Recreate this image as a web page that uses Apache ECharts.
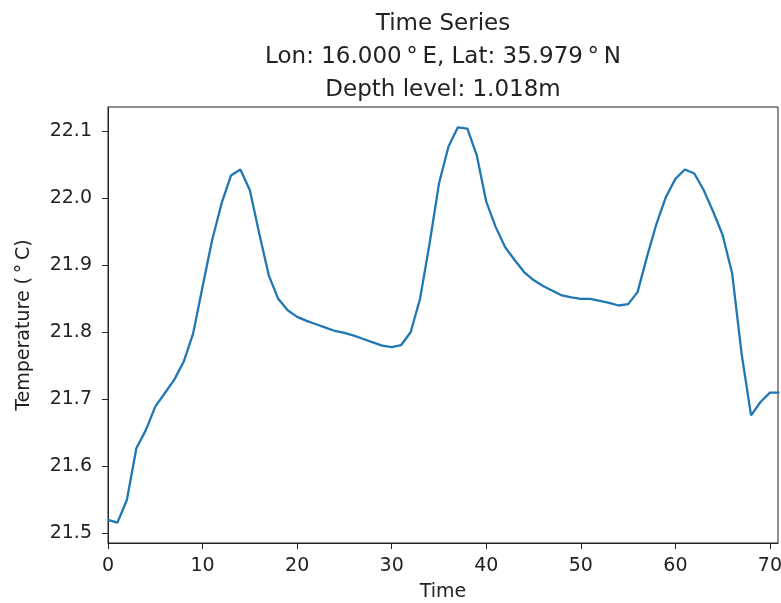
<!DOCTYPE html>
<html>
<head>
<meta charset="utf-8">
<script src="https://cdn.jsdelivr.net/npm/echarts@6/dist/echarts.min.js"></script>
<style>
html,body{margin:0;padding:0;background:#fff;}
#main{width:781px;height:603px;}
</style>
</head>
<body>
<div id="main"></div>
<script>
const titleLines = ['Time Series', 'Lon: 16.000\u2009°\u2009E, Lat: 35.979\u2009°\u2009N', 'Depth level: 1.018m'];
const xName = 'Time';
const yName = 'Temperature (\u2009°\u2009C)';
const timeSteps = [0,1,2,3,4,5,6,7,8,9,10,11,12,13,14,15,16,17,18,19,20,21,22,23,24,25,26,27,28,29,30,31,32,33,34,35,36,37,38,39,40,41,42,43,44,45,46,47,48,49,50,51,52,53,54,55,56,57,58,59,60,61,62,63,64,65,66,67,68,69,70,71];
const temperature = [21.520,21.516,21.550,21.627,21.654,21.689,21.709,21.729,21.756,21.798,21.868,21.937,21.992,22.034,22.043,22.012,21.947,21.885,21.850,21.833,21.823,21.817,21.812,21.807,21.802,21.799,21.795,21.790,21.785,21.780,21.778,21.781,21.800,21.850,21.932,22.022,22.077,22.106,22.104,22.064,21.995,21.957,21.927,21.908,21.890,21.878,21.869,21.862,21.855,21.852,21.850,21.850,21.847,21.844,21.840,21.842,21.860,21.913,21.962,22.002,22.029,22.043,22.037,22.012,21.980,21.945,21.888,21.768,21.676,21.696,21.710,21.710];
const xTicks = [0,10,20,30,40,50,60,70];
const yTicks = [21.5,21.6,21.7,21.8,21.9,22.0,22.1];

const chart = echarts.init(document.getElementById('main'), null, {renderer:'canvas'});
const fontFam = 'DejaVu Sans';
chart.setOption({
  animation: false,
  backgroundColor: '#fff',
  title: {
    text: titleLines.join('\n'),
    left: 443,
    textAlign: 'center',
    top: 8,
    padding: 0,
    textStyle: {fontFamily: fontFam, fontSize: 23, fontWeight: 'normal', color: '#222', lineHeight: 33}
  },
  grid: {left: 108, right: 3, top: 107, bottom: 60, show: true, borderColor: '#222', borderWidth: 1, backgroundColor: 'transparent', containLabel: false, outerBoundsMode: 'none'},
  xAxis: {
    type: 'value', min: 0, max: 70.85,
    name: xName, nameLocation: 'middle', nameGap: 40,
    nameTextStyle: {fontFamily: fontFam, fontSize: 19, color: '#222'},
    axisLine: {show: true, lineStyle: {color: '#222', width: 1}},
    axisTick: {show: true, inside: false, length: 6, customValues: xTicks, lineStyle: {color: '#222'}},
    axisLabel: {customValues: xTicks, margin: 14, fontFamily: fontFam, fontSize: 19, color: '#222', hideOverlap: false},
    splitLine: {show: false}
  },
  yAxis: {
    type: 'value', min: 21.4855, max: 22.1363,
    name: yName, nameLocation: 'middle', nameGap: 74, nameRotate: 90,
    nameTextStyle: {fontFamily: fontFam, fontSize: 19, color: '#222'},
    axisLine: {show: true, lineStyle: {color: '#222', width: 1}},
    axisTick: {show: true, inside: false, length: 6, customValues: yTicks, lineStyle: {color: '#222'}},
    axisLabel: {customValues: yTicks, margin: 16, fontFamily: fontFam, fontSize: 19, color: '#222', formatter: v => v.toFixed(1)},
    splitLine: {show: false}
  },
  series: [{
    type: 'line',
    data: timeSteps.map((t, i) => [t, temperature[i]]),
    showSymbol: false,
    symbol: 'none',
    lineStyle: {color: '#1f77b4', width: 2.3},
    clip: true
  }]
});
</script>
</body>
</html>
